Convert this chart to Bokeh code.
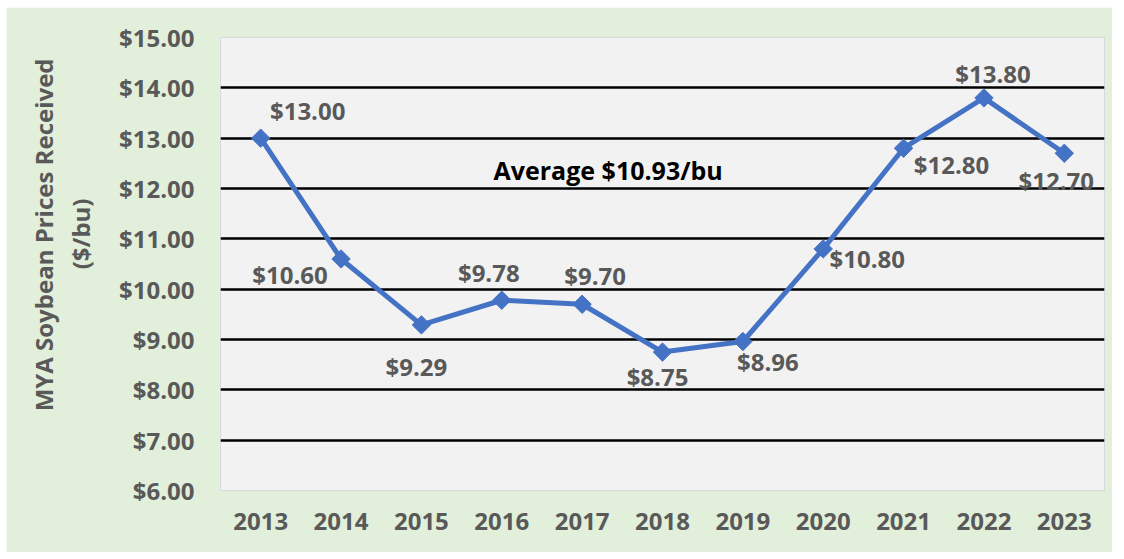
import math
from bokeh.plotting import figure
from bokeh.models import ColumnDataSource, FixedTicker, NumeralTickFormatter, Range1d, Title
from bokeh.core.properties import value
from bokeh.embed import file_html
from bokeh.resources import INLINE

years = ["2013", "2014", "2015", "2016", "2017", "2018", "2019", "2020", "2021", "2022", "2023"]
prices = [13.00, 10.60, 9.29, 9.78, 9.70, 8.75, 8.96, 10.80, 12.80, 13.80, 12.70]
price_labels = ["$13.00", "$10.60", "$9.29", "$9.78", "$9.70", "$8.75", "$8.96", "$10.80", "$12.80", "$13.80", "$12.70"]
y_ticks = [6, 7, 8, 9, 10, 11, 12, 13, 14, 15]
average_text = "Average $10.93/bu"
average_value = 12.36
title_line1 = "MYA Soybean Prices Received"
title_line2 = "($/bu)"

# label placement (screen offsets, style only)
lab_dx = [47, -51, -5, -13, 13, -5, 25, 44, 48, 9, -8]
lab_dy = [-28, 16, 42, -28, -29, 24, 20, 10, 16, -24, 27]

FONT = "Open Sans"
GRAY = "#595959"
GREEN = "#e2efda"
BLUE = "#4472C4"

p = figure(x_range=years, y_range=Range1d(6, 15), width=1106, height=545,
           output_backend="svg", toolbar_location=None,
           min_border_left=214, min_border_right=8, min_border_top=30, min_border_bottom=62,
           margin=(7, 0, 0, 6))
p.background_fill_color = "#f2f2f2"
p.border_fill_color = GREEN
p.outline_line_color = "#d9d9d9"
p.outline_line_width = 1

p.xgrid.grid_line_color = None
p.ygrid.ticker = FixedTicker(ticks=y_ticks[1:])
p.ygrid.grid_line_color = "black"
p.ygrid.grid_line_width = 2.5

p.yaxis.ticker = FixedTicker(ticks=y_ticks)
p.yaxis.formatter = NumeralTickFormatter(format="$0.00")
for ax in (p.xaxis[0], p.yaxis[0]):
    ax.axis_line_color = None
    ax.major_tick_line_color = None
    ax.minor_tick_line_color = None
    ax.major_tick_out = 0
    ax.major_tick_in = 0
    ax.major_label_text_font = FONT
    ax.major_label_text_font_style = "bold"
    ax.major_label_text_font_size = "24px"
    ax.major_label_text_color = GRAY
p.yaxis.major_label_standoff = 26
p.xaxis.major_label_standoff = 22

# axis title: two centred lines, shifted toward the top like the reference
for txt, off, standoff in ((title_line2, 161, 38), (title_line1, 21, -38)):
    p.add_layout(Title(text=txt, align="right", offset=off, standoff=standoff,
                       vertical_align="middle",
                       text_font=FONT, text_font_style="bold",
                       text_font_size="24px", text_color=GRAY), "left")

src = ColumnDataSource(dict(x=years, y=prices, lab=price_labels, dx=lab_dx, dy=lab_dy))
p.line("x", "y", source=src, line_color=BLUE, line_width=5)
p.scatter("x", "y", source=src, marker="square", angle=math.pi / 4, size=13,
          fill_color=BLUE, line_color=BLUE)
p.text("x", "y", text="lab", source=src, x_offset="dx", y_offset="dy",
       text_font=value(FONT), text_font_style="bold", text_font_size="24px",
       text_color=GRAY, text_align="center", text_baseline="middle")

p.text(x=["2017"], y=[average_value], text=[average_text], x_offset=26,
       text_font=value(FONT), text_font_style="bold", text_font_size="25px",
       text_color="black", text_align="center", text_baseline="middle")

open("out.html", "w").write(file_html(p, INLINE))
